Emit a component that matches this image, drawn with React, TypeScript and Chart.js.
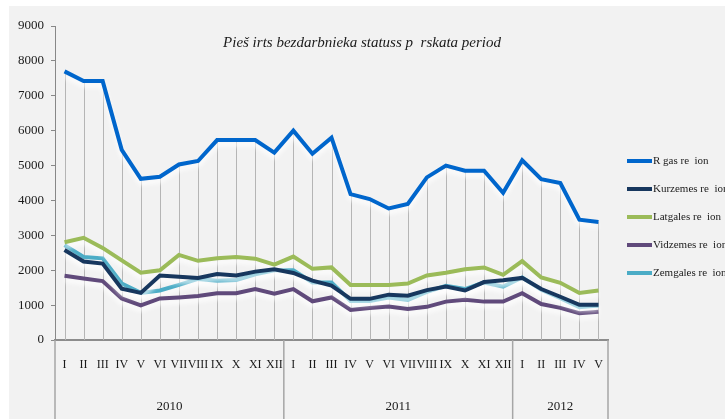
import React, { useEffect, useRef } from 'react';
import { Chart, registerables } from 'chart.js';

Chart.register(...registerables);

const months = [
  'I', 'II', 'III', 'IV', 'V', 'VI', 'VII', 'VIII', 'IX', 'X', 'XI', 'XII',
  'I', 'II', 'III', 'IV', 'V', 'VI', 'VII', 'VIII', 'IX', 'X', 'XI', 'XII',
  'I', 'II', 'III', 'IV', 'V',
];
const years = ['2010', '2011', '2012'];
const yearLengths = [12, 12, 5];

const chartTitle = 'Pieš irts bezdarbnieka statuss p  rskata period';
const seriesNames = ['R gas re  ion', 'Kurzemes re  ion', 'Latgales re  ion', 'Vidzemes re  ion', 'Zemgales re  ion'];
const seriesColors = ['#0066CC', '#17375E', '#9BBB59', '#604A7B', '#4BACC6'];

const riga = [7700, 7420, 7420, 5450, 4620, 4680, 5030, 5130, 5730, 5730, 5730, 5370, 6000, 5340, 5800, 4180, 4040, 3770, 3900, 4660, 5000, 4850, 4850, 4220, 5150, 4610, 4500, 3450, 3380];
const kurzeme = [2580, 2250, 2190, 1470, 1350, 1850, 1810, 1780, 1890, 1850, 1960, 2030, 1920, 1700, 1560, 1180, 1180, 1300, 1270, 1430, 1530, 1420, 1660, 1710, 1780, 1460, 1240, 1010, 1010];
const latgale = [2800, 2930, 2640, 2280, 1930, 2000, 2440, 2270, 2340, 2380, 2330, 2160, 2390, 2040, 2080, 1580, 1580, 1580, 1620, 1850, 1930, 2030, 2080, 1870, 2260, 1790, 1640, 1350, 1420];
const vidzeme = [1840, 1760, 1690, 1190, 990, 1190, 1220, 1260, 1340, 1340, 1460, 1330, 1460, 1110, 1220, 860, 920, 960, 890, 950, 1100, 1150, 1100, 1100, 1340, 1030, 920, 770, 810];
const zemgale = [2720, 2380, 2340, 1620, 1350, 1420, 1580, 1750, 1700, 1720, 1880, 2000, 2000, 1650, 1650, 1120, 1120, 1220, 1150, 1380, 1550, 1460, 1650, 1530, 1790, 1440, 1200, 940, 990];
const seriesData = [riga, kurzeme, latgale, vidzeme, zemgale];

const yMin = 0;
const yMax = 9000;
const yStep = 1000;

const FONT = 'Liberation Serif';

const decorPlugin = {
  id: 'decor',
  beforeDatasetsDraw(chart: any) {
    const { ctx, scales } = chart;
    const x = scales.x;
    const y = scales.y;
    ctx.save();
    ctx.strokeStyle = '#b5b5b5';
    ctx.lineWidth = 1;
    for (let i = 0; i < months.length; i++) {
      const top = Math.max(...chart.data.datasets.map((d: any) => d.data[i]));
      const px = Math.round(x.getPixelForValue(i)) + 0.5;
      ctx.beginPath();
      ctx.moveTo(px, y.getPixelForValue(top));
      ctx.lineTo(px, y.getPixelForValue(0));
      ctx.stroke();
    }
    ctx.restore();
  },
  beforeDatasetDraw(chart: any) {
    const ctx = chart.ctx;
    ctx.save();
    ctx.shadowColor = 'rgba(255,255,255,0.95)';
    ctx.shadowBlur = 5;
    ctx.shadowOffsetY = 4;
  },
  afterDatasetDraw(chart: any) {
    chart.ctx.restore();
  },
  afterDraw(chart: any) {
    const { ctx, chartArea, scales } = chart;
    const x = scales.x;
    const H = chart.height;
    ctx.save();
    // title
    ctx.fillStyle = '#1a1a1a';
    ctx.font = `italic 15px "${FONT}"`;
    ctx.textAlign = 'center';
    ctx.textBaseline = 'middle';
    ctx.fillText(chartTitle, 353, 37);

    // year separators and labels
    ctx.strokeStyle = '#a6a6a6';
    ctx.lineWidth = 1.5;
    let start = 0;
    const bounds: number[] = [chartArea.left];
    years.forEach((yr, k) => {
      const end = start + yearLengths[k] - 1;
      const right = end + 1 < months.length
        ? (x.getPixelForValue(end) + x.getPixelForValue(end + 1)) / 2
        : chartArea.right;
      bounds.push(right);
      const left = bounds[k];
      ctx.fillStyle = '#1a1a1a';
      ctx.font = `13px "${FONT}"`;
      ctx.textAlign = 'center';
      ctx.textBaseline = 'middle';
      ctx.fillText(yr, (left + right) / 2, 401);
      start = end + 1;
    });
    bounds.forEach((b) => {
      ctx.beginPath();
      ctx.moveTo(b, chartArea.bottom);
      ctx.lineTo(b, H);
      ctx.stroke();
    });

    // legend
    const legendY = [155, 183, 211, 239, 267];
    chart.data.datasets.forEach((d: any, i: number) => {
      ctx.strokeStyle = d.borderColor;
      ctx.lineWidth = 4;
      ctx.beginPath();
      ctx.moveTo(618, legendY[i]);
      ctx.lineTo(643, legendY[i]);
      ctx.stroke();
      ctx.fillStyle = '#1a1a1a';
      ctx.font = `11px "${FONT}"`;
      ctx.textAlign = 'left';
      ctx.textBaseline = 'middle';
      ctx.fillText(d.label, 644, legendY[i]);
    });
    ctx.restore();
  },
};

export default function App() {
  const ref = useRef<HTMLCanvasElement | null>(null);

  useEffect(() => {
    if (!ref.current) return;
    Chart.defaults.font.family = FONT;
    const chart = new Chart(ref.current, {
      type: 'line',
      data: {
        labels: months,
        datasets: seriesNames.map((name, i) => ({
          label: name,
          data: seriesData[i],
          borderColor: seriesColors[i],
          backgroundColor: seriesColors[i],
          borderWidth: 4,
          pointRadius: 0,
          tension: 0,
          fill: false,
        })),
      },
      options: {
        responsive: false,
        animation: false,
        layout: { padding: { left: 0, right: 117, top: 20, bottom: 0 } },
        plugins: {
          legend: { display: false },
          title: { display: false },
          tooltip: { enabled: false },
        },
        scales: {
          x: {
            type: 'category',
            offset: true,
            grid: { display: false, drawTicks: false, tickLength: 0 },
            border: { display: true, color: '#8c8c8c', width: 2 },
            ticks: {
              autoSkip: false,
              maxRotation: 0,
              minRotation: 0,
              padding: 18,
              color: '#1a1a1a',
              font: { size: 12, family: FONT },
            },
            afterFit: (s: any) => { s.height = 79; },
          },
          y: {
            min: yMin,
            max: yMax,
            grid: { display: true, drawOnChartArea: false, drawTicks: true, tickLength: 4, color: '#888' },
            border: { display: true, color: '#888', width: 1 },
            ticks: {
              stepSize: yStep,
              padding: 7,
              color: '#1a1a1a',
              font: { size: 13, family: FONT },
              callback: (v: any) => String(v),
            },
            afterFit: (s: any) => { s.width = 46; },
          },
        },
      },
      plugins: [decorPlugin],
    } as any);
    return () => chart.destroy();
  }, []);

  return (
    <div style={{ position: 'absolute', left: 9, top: 6, width: 716, height: 413, background: '#f2f2f2' }}>
      <canvas ref={ref} width={716} height={413} style={{ display: 'block' }} />
    </div>
  );
}
